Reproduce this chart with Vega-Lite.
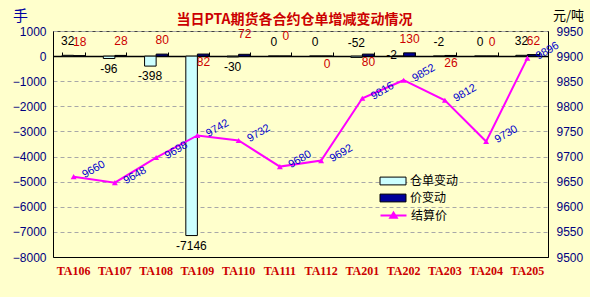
{
  "$schema": "https://vega.github.io/schema/vega-lite/v6.json",
  "autosize": "none",
  "width": 495,
  "height": 226,
  "padding": {"left": 53, "top": 31, "right": 42, "bottom": 40},
  "background": "#FFFFCC",
  "config": {"view": {"fill": "#FFFFCC", "stroke": "#404040"}, "font": "Liberation Sans"},
  "title": {"text": "当日PTA期货各合约仓单增减变动情况", "color": "#CC0000", "font": "Noto Sans CJK SC", "fontWeight": "bold", "fontSize": 14, "offset": -19, "dx": -6},
  "data": {"values": [
    {"month": "TA106", "仓单变动": 32, "价变动": 18, "结算价": 9660},
    {"month": "TA107", "仓单变动": -96, "价变动": 28, "结算价": 9648},
    {"month": "TA108", "仓单变动": -398, "价变动": 80, "结算价": 9698},
    {"month": "TA109", "仓单变动": -7146, "价变动": 82, "结算价": 9742},
    {"month": "TA110", "仓单变动": -30, "价变动": 72, "结算价": 9732},
    {"month": "TA111", "仓单变动": 0, "价变动": 0, "结算价": 9680},
    {"month": "TA112", "仓单变动": 0, "价变动": 0, "结算价": 9692},
    {"month": "TA201", "仓单变动": -52, "价变动": 80, "结算价": 9816},
    {"month": "TA202", "仓单变动": -2, "价变动": 130, "结算价": 9852},
    {"month": "TA203", "仓单变动": -2, "价变动": 26, "结算价": 9812},
    {"month": "TA204", "仓单变动": 0, "价变动": 0, "结算价": 9730},
    {"month": "TA205", "仓单变动": 32, "价变动": 62, "结算价": 9896}
  ]},
  "layer": [
    {
      "transform": [{"fold": ["仓单变动", "价变动"], "as": ["series", "value"]}],
      "encoding": {
        "x": {"field": "month", "type": "nominal", "sort": null,
          "scale": {"paddingInner": 0.44, "paddingOuter": 0.22},
          "axis": {"orient": "bottom", "title": null, "labelAngle": 0, "labelColor": "#CC0000", "labelFont": "Liberation Serif", "labelFontWeight": "bold", "labelFontSize": 12, "labelPadding": 8, "ticks": false, "domainColor": "#000000", "grid": false}},
        "y": {"field": "value", "type": "quantitative",
          "scale": {"domain": [-8000, 1000], "nice": false, "zero": false},
          "axis": {"orient": "left", "values": [-8000, -7000, -6000, -5000, -4000, -3000, -2000, -1000, 0, 1000], "format": "d", "labelOverlap": false, "grid": true, "gridDash": [4, 3], "gridColor": "#A8A8A8", "labelColor": "#000080", "labelFontSize": 12, "ticks": false, "labelPadding": 7, "domainColor": "#000000",
            "title": "手", "titleAngle": 0, "titleX": -33, "titleY": -16, "titleFontSize": 15, "titleColor": "#0000A0", "titleFontWeight": "normal", "titleFont": "Noto Sans CJK SC", "titleAlign": "center", "titleBaseline": "middle"}}
      },
      "layer": [
        {
          "mark": {"type": "bar", "stroke": "#000000", "strokeWidth": 1},
          "encoding": {
            "xOffset": {"field": "series", "type": "nominal", "sort": ["仓单变动", "价变动"], "scale": {"paddingInner": 0, "paddingOuter": 0}},
            "fill": {"field": "series", "type": "nominal",
              "scale": {"domain": ["仓单变动", "价变动"], "range": ["#CCFFFF", "#000099"]},
              "legend": {"orient": "none", "legendX": 333, "legendY": 143, "title": null, "padding": 0, "symbolType": "M-2,-0.6H2V0.6H-2Z", "symbolSize": 169, "symbolStrokeColor": "#000000", "symbolStrokeWidth": 1, "labelOffset": 10, "labelFont": "Noto Sans CJK SC", "labelFontSize": 12, "labelColor": "#000000", "rowPadding": 4}}
          }
        },
        {
          "transform": [{"filter": {"field": "series", "equal": "仓单变动"}}, {"filter": {"not": {"field": "month", "oneOf": ["TA107", "TA108", "TA109", "TA110", "TA202"]}}}],
          "mark": {"type": "text", "dx": -6, "dy": -7, "baseline": "bottom", "fontSize": 12, "color": "#000000"},
          "encoding": {"text": {"field": "value"}}
        },
        {
          "transform": [{"filter": {"field": "series", "equal": "仓单变动"}}, {"filter": {"field": "month", "oneOf": ["TA202"]}}],
          "mark": {"type": "text", "dx": -12, "dy": -1, "baseline": "middle", "fontSize": 12, "color": "#000000"},
          "encoding": {"text": {"field": "value"}}
        },
        {
          "transform": [{"filter": {"field": "series", "equal": "仓单变动"}}, {"filter": {"field": "month", "oneOf": ["TA107", "TA108", "TA109", "TA110"]}}],
          "mark": {"type": "text", "dx": -6, "dy": 5, "baseline": "top", "fontSize": 12, "color": "#000000"},
          "encoding": {"text": {"field": "value"}}
        },
        {
          "transform": [{"filter": {"field": "series", "equal": "价变动"}}, {"filter": {"not": {"field": "month", "oneOf": ["TA109", "TA112", "TA201", "TA203", "TA110", "TA111"]}}}],
          "mark": {"type": "text", "dx": 6, "dy": -7, "baseline": "bottom", "fontSize": 12, "color": "#CC0000"},
          "encoding": {"text": {"field": "value"}}
        },
        {
          "transform": [{"filter": {"field": "series", "equal": "价变动"}}, {"filter": {"field": "month", "oneOf": ["TA110", "TA111"]}}],
          "mark": {"type": "text", "dx": 6, "dy": -13, "baseline": "bottom", "fontSize": 12, "color": "#CC0000"},
          "encoding": {"text": {"field": "value"}}
        },
        {
          "transform": [{"filter": {"field": "series", "equal": "价变动"}}, {"filter": {"field": "month", "oneOf": ["TA109", "TA112", "TA201", "TA203"]}}],
          "mark": {"type": "text", "dx": 6, "dy": 3, "baseline": "top", "fontSize": 12, "color": "#CC0000"},
          "encoding": {"text": {"field": "value"}}
        }
      ]
    },
    {
      "encoding": {
        "x": {"field": "month", "type": "nominal", "sort": null,
          "scale": {"paddingInner": 0.44, "paddingOuter": 0.22},
          "axis": {"orient": "top", "offset": -25, "title": null, "labels": false, "ticks": true, "tickBand": "extent", "tickSize": 4, "tickColor": "#000000", "domainColor": "#000000", "domainWidth": 1.5, "grid": false}},
        "y": {"field": "结算价", "type": "quantitative",
          "scale": {"domain": [9500, 9950], "nice": false, "zero": false},
          "axis": {"orient": "right", "values": [9500, 9550, 9600, 9650, 9700, 9750, 9800, 9850, 9900, 9950], "format": "d", "labelOverlap": false, "grid": false, "labelColor": "#000080", "labelFontSize": 12, "ticks": false, "labelPadding": 8, "domainColor": "#000000",
            "title": "元/吨", "titleAngle": 0, "titleX": 20, "titleY": -16, "titleFontSize": 13, "titleColor": "#000000", "titleFontWeight": "normal", "titleFont": "Noto Sans CJK SC", "titleAlign": "center", "titleBaseline": "middle"}}
      },
      "layer": [
        {
          "mark": {"type": "line", "strokeWidth": 2},
          "encoding": {
            "stroke": {"datum": "结算价", "type": "nominal", "scale": {"domain": ["结算价"], "range": ["#FF00FF"]},
              "legend": {"orient": "none", "legendX": 333, "legendY": 177, "title": null, "padding": 0, "symbolType": "M-2,0H2M-0.5,0.35L0,-0.45L0.5,0.35Z", "symbolSize": 169, "symbolStrokeWidth": 2, "symbolFillColor": "#FF00FF", "labelOffset": 10, "labelFont": "Noto Sans CJK SC", "labelFontSize": 12, "labelColor": "#000000"}}
          }
        },
        {
          "mark": {"type": "point", "shape": "triangle-up", "filled": true, "size": 35, "color": "#FF00FF", "opacity": 1},
          "encoding": {}
        },
        {
          "mark": {"type": "text", "dx": 21, "dy": 4, "angle": 330, "fontSize": 11, "color": "#0000CC", "align": "center", "baseline": "middle"},
          "encoding": {"text": {"field": "结算价"}}
        }
      ]
    }
  ],
  "resolve": {"scale": {"y": "independent"}, "axis": {"x": "independent"}}
}
